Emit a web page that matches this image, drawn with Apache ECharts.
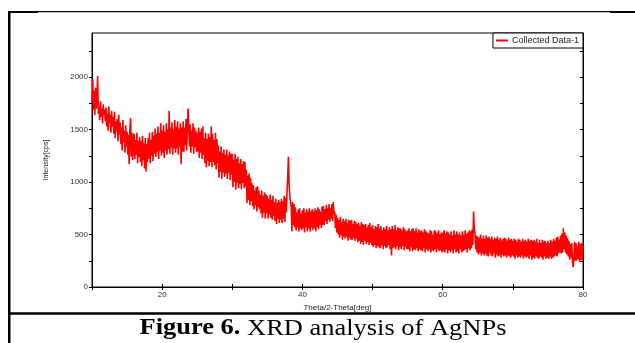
<!DOCTYPE html>
<html>
<head>
<meta charset="utf-8">
<script src="https://cdn.jsdelivr.net/npm/echarts@6/dist/echarts.min.js"></script>
<style>
html,body{margin:0;padding:0;background:#fff;}
#chart{width:635px;height:343px;}
</style>
</head>
<body>
<div id="chart"></div>
<script>
// 2-theta grid (degrees): start and step of the scan
const thetaStart = 10.0;
const thetaStep = 0.1;
// Intensity (cps), one row per degree (10 points each)
const intensity = [
1760,1980,1690,1870,1640,1900,1700,1790,2010,1650,
1720,1590,1770,1620,1700,1560,1740,1640,1690,1580,
1710,1530,1650,1490,1720,1560,1640,1470,1680,1530,
1620,1460,1670,1420,1580,1480,1600,1390,1640,1450,
1570,1360,1520,1300,1590,1380,1490,1280,1540,1340,
1480,1260,1450,1170,1500,1610,1240,1470,1210,1430,
1460,1220,1400,1260,1470,1180,1390,1240,1430,1190,
1390,1150,1440,1210,1370,1130,1420,1100,1360,1190,
1420,1220,1470,1180,1400,1250,1480,1200,1440,1270,
1510,1240,1460,1290,1530,1220,1470,1300,1560,1250,
1490,1280,1540,1230,1480,1300,1560,1260,1500,1310,
1680,1270,1520,1330,1570,1260,1500,1320,1590,1280,
1530,1320,1580,1260,1510,1340,1560,1170,1520,1290,
1580,1290,1520,1350,1600,1300,1540,1700,1500,1340,
1550,1280,1490,1340,1560,1270,1520,1330,1490,1290,
1470,1290,1520,1230,1480,1280,1510,1220,1530,1260,
1420,1180,1470,1140,1410,1200,1460,1150,1430,1190,
1530,1140,1460,1190,1400,1160,1470,1120,1410,1180,
1350,1040,1290,1100,1340,1030,1280,1090,1310,1050,
1260,1080,1310,1030,1250,1090,1290,1020,1270,1070,
1270,950,1210,1000,1270,930,1220,990,1240,940,
1180,980,1220,930,1170,990,1200,940,1190,960,
1120,800,1060,830,1080,780,1040,820,990,770,
970,740,920,780,950,720,960,760,920,740,
880,700,920,660,870,710,900,650,880,700,
870,650,840,690,880,660,830,640,870,680,
810,630,840,600,800,650,830,610,810,640,
840,610,820,650,870,620,850,710,900,1050,
1240,990,860,870,760,530,810,590,790,570,
760,540,710,570,740,530,750,560,700,540,
730,560,750,520,710,570,740,530,720,560,
750,530,720,570,740,540,720,560,750,530,
730,570,760,550,740,590,720,560,770,590,
770,590,740,630,780,600,750,640,790,620,
750,650,790,630,810,700,720,560,690,520,
660,500,640,470,670,490,620,450,650,480,
630,460,650,480,610,440,640,470,630,450,
640,450,600,470,630,440,620,460,600,430,
610,440,580,410,620,430,600,400,590,440,
600,410,570,430,590,400,610,420,570,400,
590,380,550,400,580,370,570,390,600,380,
560,370,580,400,540,360,570,390,550,370,
580,380,540,400,570,360,550,300,580,370,
550,380,590,360,540,390,570,350,560,380,
560,360,540,390,570,350,550,380,530,360,
540,360,560,340,530,380,550,340,560,360,
530,350,560,370,520,340,550,360,530,350,
540,340,520,370,550,330,530,360,520,340,
510,360,540,330,530,350,500,340,540,360,
530,330,510,360,540,340,500,350,520,330,
520,340,540,330,510,360,530,320,520,350,
500,330,530,350,490,320,540,360,500,330,
530,340,500,320,520,360,490,330,530,340,
500,350,540,360,510,330,520,370,540,350,
530,370,550,400,720,560,510,360,490,330,
480,310,470,330,500,300,460,320,490,300,
460,320,490,300,470,290,480,330,460,300,
480,290,450,320,470,280,460,310,480,290,
450,300,470,280,440,310,460,290,470,300,
460,280,440,300,470,290,450,280,460,300,
440,290,460,270,450,300,430,280,460,290,
450,280,430,300,460,270,440,290,450,280,
430,290,460,270,440,300,450,260,440,280,
450,270,430,290,460,280,420,270,450,290,
420,280,450,260,430,290,440,270,420,280,
440,270,420,290,450,270,430,280,460,290,
440,300,470,290,480,320,450,330,490,320,
510,330,560,360,520,330,490,310,470,290,
440,260,410,280,420,240,190,270,430,250,
420,250,390,270,430,240,410,260,420,250,
400
];
const seriesName = 'Collected Data-1';
const xLabelValues = [20, 40, 60, 80];
const yLabelValues = [0, 500, 1000, 1500, 2000];
const xTitle = 'Theta/2-Theta[deg]';
const yTitle = 'Intensity[cps]';
const captionBold = 'Figure 6.';
const captionRest = ' XRD analysis of AgNPs';

const points = intensity.map((v, i) => [+(thetaStart + i * thetaStep).toFixed(2), v]);

const chart = echarts.init(document.getElementById('chart'), null, {renderer: 'canvas'});
const tickLabel = {fontFamily: 'Arial, "Liberation Sans", sans-serif', fontSize: 8, color: '#333'};
chart.setOption({
  animation: false,
  backgroundColor: '#fff',
  grid: {left: 92, right: 52, top: 33, bottom: 56, containLabel: false,
         show: true, borderColor: '#000', borderWidth: 1},
  legend: {
    data: [seriesName], right: 52, top: 33, orient: 'horizontal',
    borderColor: '#000', borderWidth: 1, borderRadius: 0, padding: [3, 4, 3, 3],
    itemWidth: 12, itemHeight: 2, itemGap: 4, icon: 'rect',
    textStyle: {fontFamily: 'Arial, "Liberation Sans", sans-serif', fontSize: 9, color: '#222', padding: [0,0,0,-1]},
    backgroundColor: '#fff'
  },
  xAxis: [{
    type: 'value', min: 10, max: 80, interval: 10, position: 'bottom',
    name: xTitle, nameLocation: 'middle', nameGap: 4,
    nameTextStyle: {fontFamily: 'Arial, "Liberation Sans", sans-serif', fontSize: 8, color: '#222'},
    axisLine: {show: true, lineStyle: {color: '#000', width: 1}},
    axisTick: {show: true, inside: true, length: 3, lineStyle: {color: '#000'}},
    axisLabel: Object.assign({margin: 4, formatter: v => xLabelValues.includes(v) ? String(v) : ''}, tickLabel),
    splitLine: {show: false}
  }, {
    type: 'value', min: 10, max: 80, interval: 10, position: 'top',
    axisLine: {show: true, lineStyle: {color: '#000', width: 1}},
    axisTick: {show: true, inside: true, length: 3, lineStyle: {color: '#000'}},
    axisLabel: {show: false}, splitLine: {show: false}
  }],
  yAxis: [{
    type: 'value', min: 0, max: 2420, interval: 250, position: 'left',
    name: yTitle, nameLocation: 'middle', nameGap: 42, nameRotate: 90,
    nameTextStyle: {fontFamily: 'Arial, "Liberation Sans", sans-serif', fontSize: 7, color: '#222'},
    axisLine: {show: true, lineStyle: {color: '#000', width: 1}},
    axisTick: {show: true, inside: false, length: 3, lineStyle: {color: '#000'}},
    axisLabel: Object.assign({margin: 4, showMaxLabel: false, formatter: v => yLabelValues.includes(v) ? String(v) : ''}, tickLabel),
    splitLine: {show: false}
  }, {
    type: 'value', min: 0, max: 2420, interval: 250, position: 'right',
    axisLine: {show: true, lineStyle: {color: '#000', width: 1}},
    axisTick: {show: true, inside: true, length: 3, lineStyle: {color: '#000'}},
    axisLabel: {show: false}, splitLine: {show: false}
  }],
  series: [{
    name: seriesName, type: 'line', data: points, xAxisIndex: 0, yAxisIndex: 0,
    showSymbol: false, symbol: 'none', color: '#ff0000',
    lineStyle: {color: '#ff0000', width: 1.6}, clip: true
  }],
  graphic: [
    {type: 'rect', shape: {x: 8, y: 11, width: 2.5, height: 332}, style: {fill: '#000'}, silent: true},
    {type: 'rect', shape: {x: 8, y: 11, width: 627, height: 1.2}, style: {fill: '#000'}, silent: true},
    {type: 'rect', shape: {x: 8, y: 11, width: 30, height: 2}, style: {fill: '#000'}, silent: true},
    {type: 'rect', shape: {x: 610, y: 11, width: 25, height: 2}, style: {fill: '#000'}, silent: true},
    {type: 'rect', shape: {x: 8, y: 312.3, width: 627, height: 2.4}, style: {fill: '#000'}, silent: true},
    {type: 'text', x: 323, y: 340, scaleX: 1.15, silent: true,
     style: {text: '{b|' + captionBold + '}' + captionRest, x: 0, y: 0, align: 'center', verticalAlign: 'bottom',
       font: '23px "Liberation Serif", "Times New Roman", serif', fill: '#000',
       rich: {b: {fontWeight: 'bold', fontSize: 23, fontFamily: '"Liberation Serif", "Times New Roman", serif', fill: '#000'}}}}
  ]
});
</script>
</body>
</html>
